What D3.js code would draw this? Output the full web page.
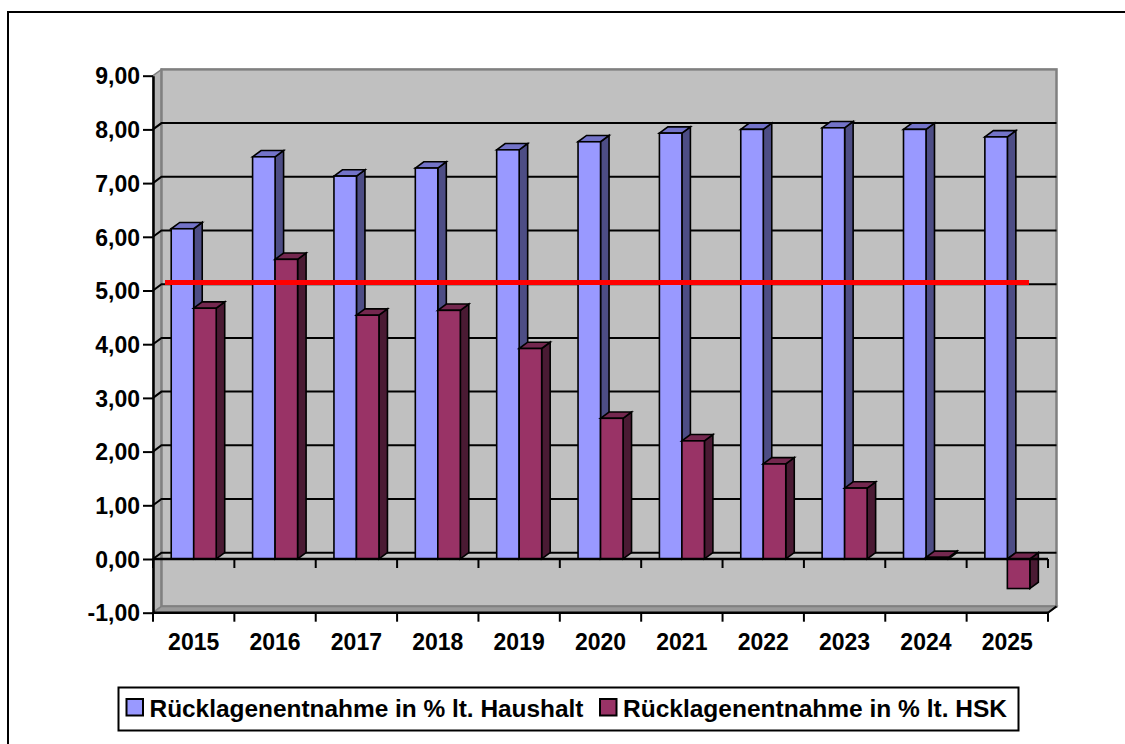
<!DOCTYPE html>
<html>
<head>
<meta charset="utf-8">
<script src="https://cdn.jsdelivr.net/npm/d3@7"></script>
<style>
  html, body { margin: 0; padding: 0; background: #fff; overflow: hidden; width: 1125px; height: 744px; }
  svg { display: block; overflow: hidden; }
  text { font-family: "Liberation Sans", Arial, sans-serif; font-weight: bold; fill: #000; }
</style>
</head>
<body>
<svg id="chart" width="1125" height="744"></svg>
<script>
// ---------- data ----------
const years = ["2015","2016","2017","2018","2019","2020","2021","2022","2023","2024","2025"];
const seriesNames = ["Rücklagenentnahme in % lt. Haushalt", "Rücklagenentnahme in % lt. HSK"];
const haushalt = [6.15, 7.49, 7.13, 7.28, 7.62, 7.77, 7.93, 8.00, 8.03, 8.00, 7.86];
const hsk      = [4.67, 5.58, 4.54, 4.63, 3.92, 2.62, 2.20, 1.77, 1.32, 0.03, -0.55];
const yTicks   = [-1, 0, 1, 2, 3, 4, 5, 6, 7, 8, 9];
const referenceLine = [5.15];

// ---------- layout ----------
const W = 1125, H = 744;
const plotLeft = 153, plotRight = 1048;
const yTopPx = 75.7, yBotPx = 612.7;
const DX = 8.5, DY = -6.3;
const colors = {
  front: ["#9999FF", "#993366"],
  top:   ["#7373C8", "#74284F"],
  side:  ["#4D4D85", "#4A1A33"]
};

const svg = d3.select("#chart");

const x = d3.scaleBand().domain(years).range([plotLeft, plotRight]).paddingInner(0).paddingOuter(0);
const bw = x.bandwidth();
const xs = d3.scaleBand().domain(seriesNames).range([bw * 0.224, bw * 0.777]).padding(0);
const y = d3.scaleLinear().domain([-1, 9]).range([yBotPx, yTopPx]);

const loc = d3.formatLocale({decimal: ",", thousands: ".", grouping: [3], currency: ["", "€"], minus: "-"});
const fmt = loc.format(".2f");

// outer frame: only left and top edges fall inside the picture
svg.append("line").attr("x1", 8).attr("x2", 8).attr("y1", 11).attr("y2", H)
  .attr("stroke", "#000").attr("stroke-width", 2);
svg.append("line").attr("x1", 7).attr("x2", W).attr("y1", 12).attr("y2", 12)
  .attr("stroke", "#000").attr("stroke-width", 2);

// walls
const wall = svg.append("g");
const yMin = y(-1), yMax = y(9);
wall.append("path")
  .attr("d", `M${plotLeft},${yMax} L${plotLeft + DX},${yMax + DY} L${plotLeft + DX},${yMin + DY} L${plotLeft},${yMin} Z`)
  .attr("fill", "#B4B4B4").attr("stroke", "#808080").attr("stroke-width", 1.5);
wall.append("rect")
  .attr("x", plotLeft + DX).attr("y", yMax + DY)
  .attr("width", plotRight - plotLeft).attr("height", yMin - yMax)
  .attr("fill", "#C0C0C0").attr("stroke", "#808080").attr("stroke-width", 2.5);
wall.append("path")
  .attr("d", `M${plotLeft},${yMin} L${plotLeft + DX},${yMin + DY} L${plotRight + DX},${yMin + DY} L${plotRight},${yMin} Z`)
  .attr("fill", "#9A9A9A").attr("stroke", "#808080").attr("stroke-width", 1.5);

// gridlines
const grid = svg.append("g").attr("stroke", "#000").attr("stroke-width", 2).attr("fill", "none");
yTicks.filter(v => v >= 0 && v < 9).forEach(v => {
  grid.append("path")
    .attr("d", `M${plotLeft},${y(v)} L${plotLeft + DX},${y(v) + DY} L${plotRight + DX},${y(v) + DY}`);
});

// bars
const bars = svg.append("g").attr("stroke", "#000").attr("stroke-width", 1.6).attr("stroke-linejoin", "miter");
const seriesVals = [haushalt, hsk];
years.forEach((yr, i) => {
  seriesNames.forEach((s, si) => {
    const v = seriesVals[si][i];
    const x0 = x(yr) + xs(s);
    const x1 = x0 + xs.bandwidth();
    const yt = Math.min(y(v), y(0));
    const yb = Math.max(y(v), y(0));
    bars.append("path")
      .attr("d", `M${x1},${yt} L${x1 + DX},${yt + DY} L${x1 + DX},${yb + DY} L${x1},${yb} Z`)
      .attr("fill", colors.side[si]);
    bars.append("path")
      .attr("d", `M${x0},${yt} L${x0 + DX},${yt + DY} L${x1 + DX},${yt + DY} L${x1},${yt} Z`)
      .attr("fill", colors.top[si]);
    bars.append("rect")
      .attr("x", x0).attr("y", yt).attr("width", x1 - x0).attr("height", Math.max(0.5, yb - yt))
      .attr("fill", colors.front[si]);
  });
});

// zero line and bottom axis with ticks
const axes = svg.append("g").attr("stroke", "#000").attr("stroke-width", 2).attr("fill", "none");
const bounds = years.map(d => x(d)).concat([plotRight]);
axes.append("line").attr("x1", plotLeft).attr("x2", plotRight).attr("y1", y(0)).attr("y2", y(0)).attr("stroke-width", 2.5);
bounds.forEach(bx => {
  axes.append("line").attr("x1", bx).attr("x2", bx).attr("y1", y(0)).attr("y2", y(0) + 9);
});
axes.append("line").attr("x1", plotLeft).attr("x2", plotRight).attr("y1", y(-1)).attr("y2", y(-1)).attr("stroke-width", 2.5);
axes.append("line").attr("x1", plotRight).attr("x2", plotRight + DX).attr("y1", y(-1)).attr("y2", y(-1) + DY);
bounds.forEach(bx => {
  axes.append("line").attr("x1", bx).attr("x2", bx).attr("y1", y(-1)).attr("y2", y(-1) + 9);
});

// y axis
const yAxis = d3.axisLeft(y).tickValues(yTicks).tickFormat(fmt).tickSize(10).tickSizeOuter(0).tickPadding(3);
const yg = svg.append("g").attr("transform", `translate(${plotLeft},0)`).call(yAxis);
yg.select(".domain").attr("stroke", "#000").attr("stroke-width", 2.5);
yg.selectAll(".tick line").attr("stroke", "#000").attr("stroke-width", 2);
yg.selectAll(".tick text")
  .attr("font-size", 23).attr("font-family", "'Liberation Sans', Arial, sans-serif")
  .attr("font-weight", "bold").attr("fill", "#000").attr("dy", "0.36em");

// x labels
svg.append("g").selectAll("text").data(years).join("text")
  .attr("x", d => x(d) + bw / 2)
  .attr("y", 650)
  .attr("text-anchor", "middle")
  .attr("font-size", 23)
  .text(d => d);

// reference line
svg.append("g").selectAll("line").data(referenceLine).join("line")
  .attr("x1", plotLeft + 12).attr("x2", plotRight - 19)
  .attr("y1", d => y(d)).attr("y2", d => y(d))
  .attr("stroke", "#FF0000").attr("stroke-width", 5);

// legend
const lg = svg.append("g");
lg.append("rect").attr("x", 118.5).attr("y", 687.5).attr("width", 900).attr("height", 43)
  .attr("fill", "#fff").attr("stroke", "#000").attr("stroke-width", 2);
const legendX = [126.5, 600];
const legendW = [434, 384];
seriesNames.forEach((s, i) => {
  lg.append("rect").attr("x", legendX[i]).attr("y", 699).attr("width", 16.5).attr("height", 16.5)
    .attr("fill", colors.front[i]).attr("stroke", "#000").attr("stroke-width", 2);
  lg.append("text").attr("x", legendX[i] + 23).attr("y", 716.5)
    .attr("font-size", 23.5)
    .attr("textLength", legendW[i]).attr("lengthAdjust", "spacingAndGlyphs")
    .text(s);
});
</script>
</body>
</html>
